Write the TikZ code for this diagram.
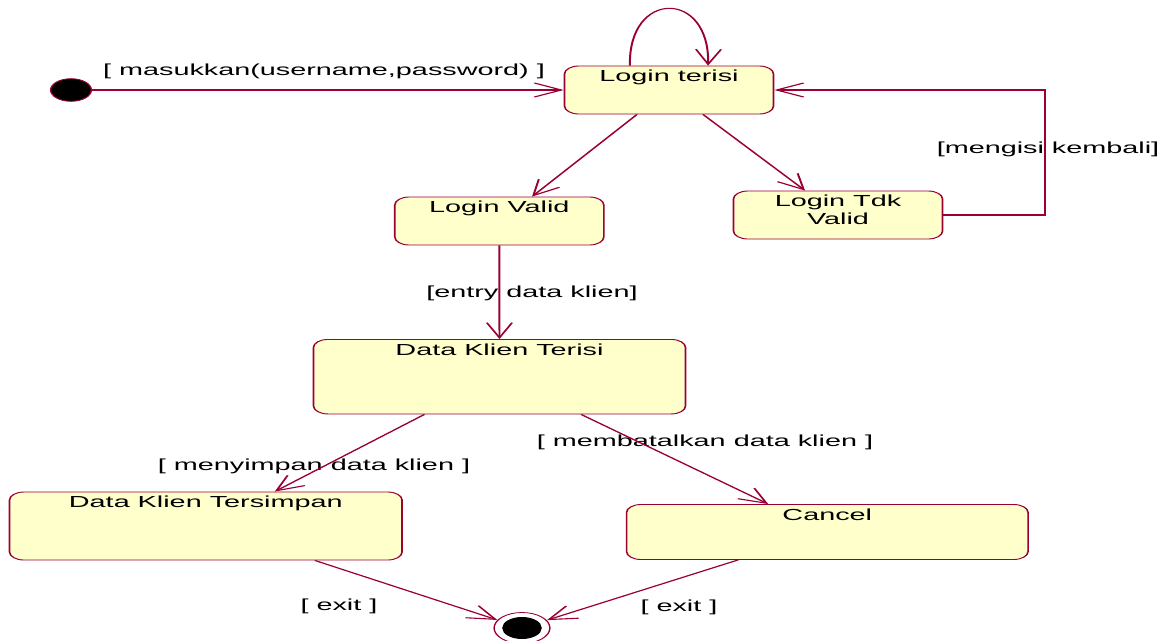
\documentclass[tikz,border=0pt]{standalone}
\usepackage{fontspec}
\setmainfont{Liberation Sans}
\usetikzlibrary{arrows.meta}
\definecolor{wire}{HTML}{990033}
\definecolor{statefill}{HTML}{FFFFCC}
\begin{document}
\begin{tikzpicture}
\useasboundingbox (0pt,0pt) rectangle (1169pt,-640pt);
\fill[white] (0pt,0pt) rectangle (1169pt,-640pt);
% the whole chart is drawn in a narrow frame and widened 1.8 times
\begin{scope}[transform canvas={xscale=1.8}, x=0.55556pt, y=-1pt,
  every node/.style={font=\fontsize{16}{18}\selectfont, text=black},
  state/.style={draw=wire, fill=statefill, line width=0.9pt, rounded corners=8pt, inner sep=0pt},
  flow/.style={draw=wire, line width=1.1pt, -{Straight Barb[length=15pt,width=14pt]}},
  guard/.style={anchor=base, inner sep=0pt},
  title/.style={anchor=base, inner sep=0pt}]

  % states
  \node[state, minimum width=209pt/1.8, minimum height=48pt] (lt) at (669,90) {};
  \node[title] (ltT) at ([yshift=-16pt]lt.north) {Login terisi};

  \node[state, minimum width=209pt/1.8, minimum height=48pt] (lv) at (499.3,221) {};
  \node[title] (lvT) at ([yshift=-16pt]lv.north) {Login Valid};

  \node[state, minimum width=209pt/1.8, minimum height=48pt] (ltv) at (838,215) {};
  \node[anchor=north, inner sep=0pt, align=center] (ltvT) at ([yshift=-4.4pt]ltv.north) {Login Tdk\\Valid};

  \node[state, minimum width=372pt/1.8, minimum height=74.5pt] (dkt) at (499.5,376.7) {};
  \node[title] (dktT) at ([yshift=-16pt]dkt.north) {Data Klien Terisi};

  \node[state, minimum width=392.5pt/1.8, minimum height=68pt] (dks) at (205.8,526) {};
  \node[title] (dksT) at ([yshift=-16pt]dks.north) {Data Klien Tersimpan};

  \node[state, minimum width=401.5pt/1.8, minimum height=55pt] (cc) at (827.3,532) {};
  \node[title] (ccT) at ([yshift=-16pt]cc.north) {Cancel};

  % pseudo states
  \node[circle, draw=wire, fill=black, line width=0.8pt, minimum size=22.6pt, inner sep=0pt] (init) at (71,90) {};
  \node[circle, draw=wire, fill=white, line width=0.8pt, minimum size=31pt, inner sep=0pt] (fin) at (522,628) {};
  \node[circle, fill=black, minimum size=22pt, inner sep=0pt] (finc) at (fin) {};

  % guards
  \node[guard] (g1) at (324,75) {[ masukkan(username,password) ]};
  \node[guard] (g2) at (1048,153) {[mengisi kembali]};
  \node[guard] (g3) at (532,297) {[entry data klien]};
  \node[guard] (g4) at (314,470) {[ menyimpan data klien ]};
  \node[guard] (g5) at (705,446) {[ membatalkan data klien ]};
  \node[guard] (g6) at (339,610) {[ exit ]};
  \node[guard] (g7) at (679,611) {[ exit ]};

  % transitions
  \draw[flow] (init) -- (lt.west);
  \draw[flow] ([xshift=-21.7pt]lt.north) .. controls +(-2,-76) and +(2,-76) .. ([xshift=21.7pt]lt.north);
  \draw[flow] ([xshift=-17.8pt]lt.south) -- ([xshift=18.2pt]lv.north);
  \draw[flow] ([xshift=18.9pt]lt.south) -- ([xshift=-18.3pt]ltv.north);
  \draw[flow] (ltv.east) -- ++(102,0) |- (lt.east);
  \draw[flow] (lv.south) -- (dkt.north);
  \draw[flow] ([xshift=-41.7pt]dkt.south) -- ([xshift=38.3pt]dks.north);
  \draw[flow] ([xshift=45.3pt]dkt.south) -- ([xshift=-32.8pt]cc.north);
  \draw[flow] ([xshift=60.6pt]dks.south) -- (fin);
  \draw[flow] ([xshift=-49.6pt]cc.south) -- (fin);
\end{scope}
\end{tikzpicture}
\end{document}
